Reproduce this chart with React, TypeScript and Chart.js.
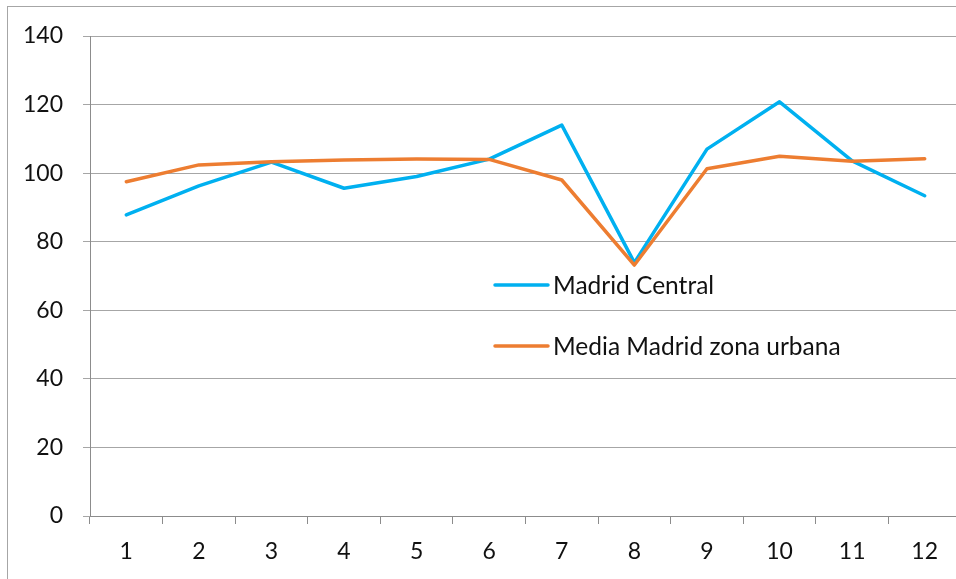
import React, { useEffect, useRef } from "react";
import { Chart, registerables } from "chart.js";

Chart.register(...registerables);

const categories = ["1", "2", "3", "4", "5", "6", "7", "8", "9", "10", "11", "12"];
const madridCentral = [87.8, 96.3, 103.2, 95.6, 99.0, 104.1, 114.0, 73.9, 107.0, 120.8, 103.6, 93.4];
const mediaMadrid = [97.5, 102.4, 103.3, 103.8, 104.1, 104.0, 98.0, 73.2, 101.3, 104.9, 103.5, 104.2];
const seriesNames = ["Madrid Central", "Media Madrid zona urbana"];
const seriesColors = ["#00B0F0", "#ED7D31"];

const FONT = "Lato, 'Noto Sans', sans-serif";

const legendPlugin = {
  id: "insideLegend",
  afterDatasetsDraw(chart: any) {
    const ctx = chart.ctx;
    const x0 = 495;
    const ys = [285, 346];
    ctx.save();
    chart.data.datasets.forEach((ds: any, i: number) => {
      const y = ys[i];
      ctx.strokeStyle = ds.borderColor;
      ctx.lineWidth = 3.5;
      ctx.lineCap = "round";
      ctx.beginPath();
      ctx.moveTo(x0, y);
      ctx.lineTo(x0 + 53, y);
      ctx.stroke();
      ctx.fillStyle = "#111";
      ctx.font = `24.5px ${FONT}`;
      ctx.textBaseline = "middle";
      ctx.textAlign = "left";
      ctx.fillText(ds.label, x0 + 58, y + 1);
    });
    ctx.restore();
  },
};

export default function App() {
  const ref = useRef<HTMLCanvasElement>(null);
  useEffect(() => {
    if (!ref.current) return;
    const chart = new Chart(ref.current, {
      type: "line",
      data: {
        labels: categories,
        datasets: [
          {
            label: seriesNames[0],
            data: madridCentral,
            borderColor: seriesColors[0],
            backgroundColor: seriesColors[0],
            borderWidth: 3.5,
            pointRadius: 0,
            tension: 0,
            borderJoinStyle: "round",
            borderCapStyle: "round",
            order: 1,
          },
          {
            label: seriesNames[1],
            data: mediaMadrid,
            borderColor: seriesColors[1],
            backgroundColor: seriesColors[1],
            borderWidth: 3.5,
            pointRadius: 0,
            tension: 0,
            borderJoinStyle: "round",
            borderCapStyle: "round",
            order: 0,
          },
        ],
      },
      options: {
        animation: false,
        responsive: false,
        devicePixelRatio: 1,
        layout: { padding: { top: 36, right: 19, left: 0, bottom: 0 } },
        plugins: { legend: { display: false }, tooltip: { enabled: false } },
        scales: {
          x: {
            type: "category",
            offset: true,
            grid: {
              offset: true,
              drawOnChartArea: false,
              drawTicks: true,
              tickLength: 8,
              color: "#8c8c8c",
            },
            border: { color: "#8c8c8c", width: 1 },
            ticks: { color: "#111", font: { family: FONT, size: 23 }, padding: 14, maxRotation: 0 },
            afterFit: (s: any) => {
              s.height = 63;
            },
          },
          y: {
            min: 0,
            max: 140,
            grid: { color: "#a6a6a6", tickLength: 7, drawTicks: true },
            border: { color: "#8c8c8c", width: 1 },
            ticks: { stepSize: 20, color: "#111", font: { family: FONT, size: 23 }, padding: 20 },
            afterFit: (s: any) => {
              s.width = 90;
            },
          },
        },
      },
      plugins: [legendPlugin],
    });
    return () => chart.destroy();
  }, []);
  return (
    <div
      style={{
        position: "fixed",
        left: 0,
        top: 0,
        width: 956,
        height: 579,
        overflow: "hidden",
        background: "#fff",
      }}
    >
      <div
        style={{
          position: "absolute",
          left: 7,
          top: 6,
          width: 990,
          height: 600,
          border: "1px solid #a6a6a6",
          boxSizing: "border-box",
        }}
      />
      <canvas ref={ref} width={980} height={579} style={{ position: "absolute", left: 0, top: 0 }} />
    </div>
  );
}
